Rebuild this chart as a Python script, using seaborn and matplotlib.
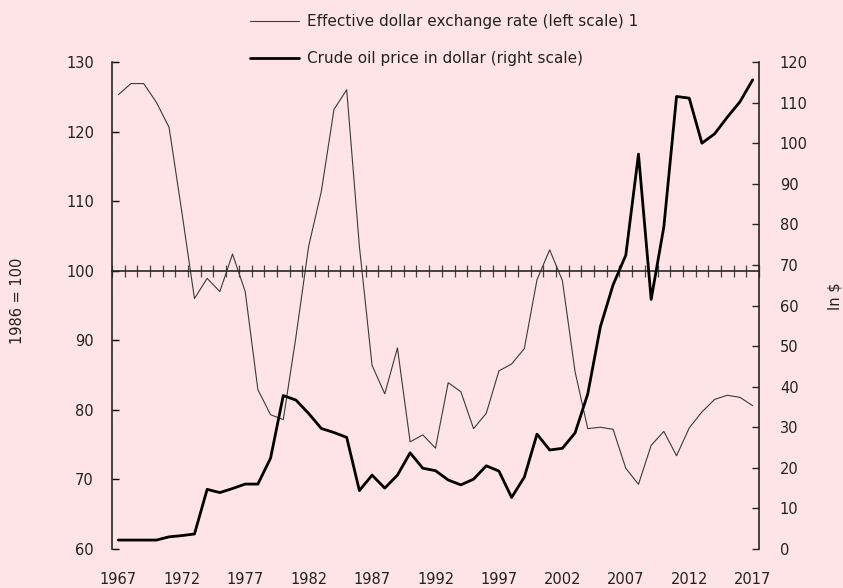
# Dollar exchange rate vs crude oil price, 1967-2017
import numpy as np
import pandas as pd
import matplotlib.pyplot as plt
import seaborn as sns

# data
years = list(range(1967, 2018))
exchange_rate = [125.3, 126.9, 126.9, 124.2, 120.6, 108.5, 96.0, 98.9, 97.0, 102.4,
                 97.0, 82.9, 79.3, 78.6, 90.5, 103.5, 111.4, 123.2, 126.0, 103.5,
                 86.4, 82.3, 88.9, 75.4, 76.4, 74.5, 83.9, 82.6, 77.3, 79.5,
                 85.6, 86.6, 88.8, 98.7, 103.0, 98.6, 85.5, 77.3, 77.5, 77.2,
                 71.6, 69.3, 74.9, 76.9, 73.4, 77.4, 79.7, 81.5, 82.1, 81.8, 80.6]
oil_price = [2.2, 2.2, 2.2, 2.2, 3.0, 3.3, 3.7, 14.7, 13.9, 14.9,
             16.0, 16.0, 22.4, 37.8, 36.7, 33.4, 29.7, 28.7, 27.5, 14.4,
             18.2, 15.0, 18.2, 23.7, 19.9, 19.3, 17.0, 15.8, 17.2, 20.5,
             19.2, 12.7, 17.7, 28.3, 24.4, 24.8, 28.6, 38.2, 54.8, 65.1,
             72.4, 97.3, 61.5, 79.4, 111.5, 111.1, 100.0, 102.3, 106.4, 110.2, 115.6]
label_years = list(range(1967, 2018, 5))
left_ticks = list(range(60, 131, 10))
right_ticks = list(range(0, 121, 10))

series_names = ['Effective dollar exchange rate (left scale) 1',
                'Crude oil price in dollar (right scale)']

bg = '#fee4e6'

sns.set_style('ticks')
plt.rcParams['font.family'] = ['DejaVu Sans']
plt.rcParams['font.size'] = 10.5

df = pd.DataFrame({'year': years, 'dollar': exchange_rate, 'oil': oil_price})

fig = plt.figure(figsize=(8.43, 5.88), dpi=100, facecolor=bg)
ax = fig.add_axes([112 / 843, 1 - 549 / 588, 647 / 843, 487 / 588])
ax.set_facecolor(bg)
ax2 = ax.twinx()

# the two series
sns.lineplot(data=df, x='year', y='dollar', ax=ax, color='#3a3a3a',
             linewidth=0.8, label=series_names[0], legend=False)
sns.lineplot(data=df, x='year', y='oil', ax=ax2, color='black',
             linewidth=2.0, label=series_names[1], legend=False)

# left axis
ax.set_xlim(years[0] - 0.5, years[-1] + 0.5)
ax.set_ylim(60, 130)
ax.set_yticks(left_ticks)
ax.tick_params(axis='y', direction='in', length=5, width=1, pad=13, colors='black',
               labelcolor='#222222')
ax.spines['top'].set_visible(False)
ax.spines['right'].set_visible(False)
ax.spines['left'].set_linewidth(1.2)

# x axis sits on the 100 line, one tick per year boundary
ax.spines['bottom'].set_position(('data', 100))
ax.spines['bottom'].set_linewidth(1.2)
ax.set_xticks(np.arange(years[0] - 0.5, years[-1] + 1, 1))
ax.tick_params(axis='x', direction='inout', length=8.5, width=0.9, color='#444444',
               labelbottom=False)
ax.set_xlabel('')

# year labels along the bottom
sec = ax.secondary_xaxis('bottom')
sec.set_xticks(label_years)
sec.tick_params(length=0, pad=16.5, labelcolor='#222222', labelsize=10.5)
for s in sec.spines.values():
    s.set_visible(False)

ax.set_ylabel('1986 = 100', color='#222222')
ax.yaxis.set_label_coords(-0.134, 0.51)

# right axis
ax2.set_ylim(0, 120)
ax2.set_yticks(right_ticks)
ax2.tick_params(axis='y', direction='in', length=5, width=1, pad=15,
                labelcolor='#222222')
for side in ['top', 'left', 'bottom']:
    ax2.spines[side].set_visible(False)
ax2.spines['right'].set_linewidth(1.2)
ax2.set_ylabel('In $', color='#222222')
ax2.yaxis.set_label_coords(1.106, 0.52)

# legend at the top
handles = ax.get_lines()[:1] + ax2.get_lines()[:1]
fig.legend(handles, series_names, loc='upper left',
           bbox_to_anchor=(250 / 843, 1 - 14 / 588), frameon=False,
           handlelength=3.2, handletextpad=0.55, labelspacing=1.45,
           borderpad=0, borderaxespad=0, fontsize=11, labelcolor='#222222')

fig.savefig('out.png', dpi=100, facecolor=bg)
